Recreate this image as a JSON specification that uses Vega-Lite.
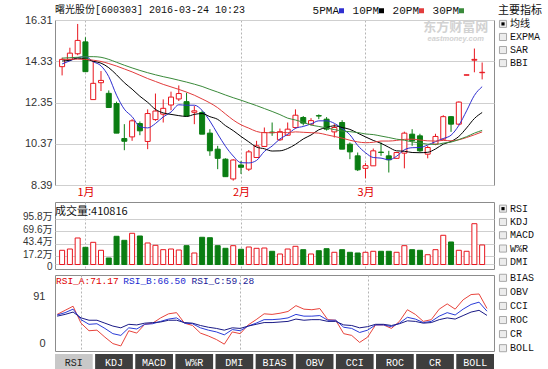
{
  "$schema": "https://vega.github.io/schema/vega-lite/v6.json",
  "padding": {"left": 0, "top": 4, "right": 0, "bottom": 0},
  "background": "white",
  "config": {
    "view": {"stroke": "#8c8c8c", "strokeWidth": 1},
    "font": "Liberation Sans"
  },
  "resolve": {"scale": {"color": "independent", "fill": "independent", "stroke": "independent"}, "legend": {"color": "independent"}},
  "datasets": {
    "candles": [
      {"i":0,"o":14.07,"h":14.5,"l":13.65,"c":14.42,"v":29.9,"d":"u"},
      {"i":1,"o":14.42,"h":14.98,"l":14.38,"c":14.72,"v":32.6,"d":"u"},
      {"i":2,"o":14.69,"h":16.12,"l":14.62,"c":15.33,"v":55.8,"d":"u"},
      {"i":3,"o":15.26,"h":15.48,"l":13.83,"c":13.83,"v":36.2,"d":"d"},
      {"i":4,"o":12.49,"h":14.34,"l":12.49,"c":13.27,"v":46.7,"d":"u"},
      {"i":5,"o":13.3,"h":13.86,"l":12.9,"c":13.41,"v":29.9,"d":"u"},
      {"i":6,"o":12.79,"h":12.93,"l":12.11,"c":12.11,"v":13.7,"d":"d"},
      {"i":7,"o":12.3,"h":12.39,"l":10.88,"c":10.88,"v":59.4,"d":"d"},
      {"i":8,"o":10.62,"h":11.31,"l":10.06,"c":10.49,"v":50.9,"d":"d"},
      {"i":9,"o":10.7,"h":11.55,"l":10.51,"c":11.47,"v":65.7,"d":"u"},
      {"i":10,"o":11.34,"h":11.44,"l":10.78,"c":10.99,"v":60.0,"d":"d"},
      {"i":11,"o":10.48,"h":12.02,"l":10.11,"c":11.82,"v":45.3,"d":"u"},
      {"i":12,"o":11.53,"h":12.78,"l":11.47,"c":11.94,"v":40.4,"d":"u"},
      {"i":13,"o":11.79,"h":12.5,"l":11.39,"c":12.07,"v":31.2,"d":"u"},
      {"i":14,"o":12.23,"h":12.87,"l":11.98,"c":12.61,"v":32.6,"d":"u"},
      {"i":15,"o":12.52,"h":13.17,"l":12.42,"c":12.78,"v":30.5,"d":"u"},
      {"i":16,"o":12.39,"h":12.82,"l":11.7,"c":11.7,"v":39.6,"d":"d"},
      {"i":17,"o":11.88,"h":12.18,"l":11.31,"c":11.95,"v":24.2,"d":"u"},
      {"i":18,"o":11.87,"h":11.96,"l":10.83,"c":10.83,"v":57.3,"d":"d"},
      {"i":19,"o":10.88,"h":11.07,"l":9.79,"c":10.03,"v":56.4,"d":"d"},
      {"i":20,"o":10.11,"h":10.27,"l":9.15,"c":9.67,"v":39.6,"d":"d"},
      {"i":21,"o":9.63,"h":9.67,"l":8.79,"c":8.79,"v":34.1,"d":"d"},
      {"i":22,"o":8.68,"h":9.63,"l":8.6,"c":9.59,"v":39.6,"d":"u"},
      {"i":23,"o":9.35,"h":9.55,"l":8.92,"c":9.24,"v":32.0,"d":"d"},
      {"i":24,"o":9.15,"h":10.07,"l":9.06,"c":9.98,"v":36.8,"d":"u"},
      {"i":25,"o":9.71,"h":10.51,"l":9.71,"c":10.27,"v":34.1,"d":"u"},
      {"i":26,"o":10.24,"h":11.15,"l":10.24,"c":10.91,"v":34.7,"d":"u"},
      {"i":27,"o":10.93,"h":11.39,"l":10.75,"c":10.9,"v":27.8,"d":"d"},
      {"i":28,"o":10.56,"h":11.1,"l":10.5,"c":10.95,"v":22.1,"d":"u"},
      {"i":29,"o":10.78,"h":11.39,"l":10.75,"c":11.07,"v":32.6,"d":"u"},
      {"i":30,"o":11.15,"h":12.02,"l":11.1,"c":11.74,"v":38.3,"d":"u"},
      {"i":31,"o":11.63,"h":11.7,"l":11.25,"c":11.36,"v":31.2,"d":"d"},
      {"i":32,"o":11.31,"h":11.6,"l":11.25,"c":11.48,"v":22.1,"d":"u"},
      {"i":33,"o":11.72,"h":11.78,"l":11.55,"c":11.7,"v":29.0,"d":"d"},
      {"i":34,"o":11.55,"h":11.65,"l":11.0,"c":11.07,"v":33.3,"d":"d"},
      {"i":35,"o":10.94,"h":11.31,"l":10.67,"c":11.15,"v":25.7,"d":"u"},
      {"i":36,"o":11.39,"h":11.5,"l":10.11,"c":10.11,"v":31.2,"d":"d"},
      {"i":37,"o":10.35,"h":10.43,"l":9.63,"c":9.98,"v":25.7,"d":"d"},
      {"i":38,"o":9.79,"h":9.95,"l":9.06,"c":9.12,"v":24.2,"d":"d"},
      {"i":39,"o":9.19,"h":9.44,"l":8.71,"c":9.32,"v":25.7,"d":"u"},
      {"i":40,"o":9.31,"h":10.14,"l":9.31,"c":10.03,"v":27.8,"d":"u"},
      {"i":41,"o":9.97,"h":10.43,"l":9.79,"c":9.95,"v":27.8,"d":"d"},
      {"i":42,"o":9.79,"h":10.03,"l":8.99,"c":9.6,"v":27.8,"d":"d"},
      {"i":43,"o":9.67,"h":9.97,"l":9.65,"c":9.95,"v":25.7,"d":"u"},
      {"i":44,"o":9.92,"h":10.95,"l":9.19,"c":10.88,"v":39.6,"d":"u"},
      {"i":45,"o":10.83,"h":11.07,"l":10.27,"c":10.51,"v":31.2,"d":"d"},
      {"i":46,"o":10.75,"h":10.85,"l":9.98,"c":10.03,"v":29.9,"d":"d"},
      {"i":47,"o":9.87,"h":10.27,"l":9.67,"c":10.19,"v":20.6,"d":"u"},
      {"i":48,"o":10.35,"h":10.85,"l":10.3,"c":10.72,"v":31.2,"d":"u"},
      {"i":49,"o":10.59,"h":11.74,"l":10.55,"c":11.67,"v":61.5,"d":"u"},
      {"i":50,"o":11.67,"h":11.7,"l":10.94,"c":11.31,"v":47.4,"d":"d"},
      {"i":51,"o":11.31,"h":12.4,"l":11.25,"c":12.37,"v":29.9,"d":"u"},
      {"i":52,"o":13.66,"h":13.68,"l":13.66,"c":13.68,"v":27.8,"d":"u"},
      {"i":53,"o":14.38,"h":14.94,"l":13.8,"c":14.42,"v":85.9,"d":"u"},
      {"i":54,"o":13.78,"h":14.27,"l":13.46,"c":13.8,"v":41.1,"d":"u"}
    ],
    "ma": [
      {"i":0,"5PMA":14.20,"10PM":14.34,"20PM":14.42,"30PM":14.48},
      {"i":1,"5PMA":14.35,"10PM":14.38,"20PM":14.42,"30PM":14.50},
      {"i":2,"5PMA":14.50,"10PM":14.48,"20PM":14.43,"30PM":14.52},
      {"i":3,"5PMA":14.55,"10PM":14.43,"20PM":14.42,"30PM":14.55},
      {"i":4,"5PMA":14.31,"10PM":14.33,"20PM":14.38,"30PM":14.55},
      {"i":5,"5PMA":14.11,"10PM":14.24,"20PM":14.32,"30PM":14.52},
      {"i":6,"5PMA":13.59,"10PM":14.02,"20PM":14.22,"30PM":14.42},
      {"i":7,"5PMA":12.70,"10PM":13.68,"20PM":14.10,"30PM":14.28},
      {"i":8,"5PMA":12.03,"10PM":13.30,"20PM":13.96,"30PM":14.14},
      {"i":9,"5PMA":11.67,"10PM":12.99,"20PM":13.82,"30PM":14.01},
      {"i":10,"5PMA":11.19,"10PM":12.65,"20PM":13.66,"30PM":13.89},
      {"i":11,"5PMA":11.13,"10PM":12.36,"20PM":13.50,"30PM":13.78},
      {"i":12,"5PMA":11.34,"10PM":12.02,"20PM":13.36,"30PM":13.68},
      {"i":13,"5PMA":11.66,"10PM":11.85,"20PM":13.22,"30PM":13.59},
      {"i":14,"5PMA":11.89,"10PM":11.78,"20PM":13.10,"30PM":13.51},
      {"i":15,"5PMA":12.24,"10PM":11.72,"20PM":12.98,"30PM":13.42},
      {"i":16,"5PMA":12.22,"10PM":11.68,"20PM":12.85,"30PM":13.33},
      {"i":17,"5PMA":12.22,"10PM":11.78,"20PM":12.70,"30PM":13.23},
      {"i":18,"5PMA":11.97,"10PM":11.82,"20PM":12.52,"30PM":13.12},
      {"i":19,"5PMA":11.46,"10PM":11.67,"20PM":12.33,"30PM":12.98},
      {"i":20,"5PMA":10.84,"10PM":11.54,"20PM":12.10,"30PM":12.85},
      {"i":21,"5PMA":10.25,"10PM":11.24,"20PM":11.80,"30PM":12.71},
      {"i":22,"5PMA":9.78,"10PM":11.00,"20PM":11.51,"30PM":12.58},
      {"i":23,"5PMA":9.46,"10PM":10.72,"20PM":11.28,"30PM":12.46},
      {"i":24,"5PMA":9.45,"10PM":10.46,"20PM":11.12,"30PM":12.33},
      {"i":25,"5PMA":9.57,"10PM":10.21,"20PM":10.96,"30PM":12.20},
      {"i":26,"5PMA":10.00,"10PM":10.13,"20PM":10.90,"30PM":12.06},
      {"i":27,"5PMA":10.26,"10PM":10.02,"20PM":10.90,"30PM":11.92},
      {"i":28,"5PMA":10.60,"10PM":10.03,"20PM":10.92,"30PM":11.77},
      {"i":29,"5PMA":10.82,"10PM":10.14,"20PM":10.90,"30PM":11.60},
      {"i":30,"5PMA":11.11,"10PM":10.34,"20PM":10.94,"30PM":11.51},
      {"i":31,"5PMA":11.20,"10PM":10.60,"20PM":10.92,"30PM":11.40},
      {"i":32,"5PMA":11.32,"10PM":10.79,"20PM":10.90,"30PM":11.27},
      {"i":33,"5PMA":11.47,"10PM":11.04,"20PM":10.88,"30PM":11.20},
      {"i":34,"5PMA":11.47,"10PM":11.15,"20PM":10.80,"30PM":11.13},
      {"i":35,"5PMA":11.35,"10PM":11.23,"20PM":10.72,"30PM":11.05},
      {"i":36,"5PMA":11.10,"10PM":11.15,"20PM":10.64,"30PM":10.98},
      {"i":37,"5PMA":10.80,"10PM":11.06,"20PM":10.54,"30PM":10.95},
      {"i":38,"5PMA":10.29,"10PM":10.88,"20PM":10.46,"30PM":10.91},
      {"i":39,"5PMA":9.94,"10PM":10.70,"20PM":10.42,"30PM":10.84},
      {"i":40,"5PMA":9.71,"10PM":10.53,"20PM":10.44,"30PM":10.81},
      {"i":41,"5PMA":9.68,"10PM":10.39,"20PM":10.50,"30PM":10.74},
      {"i":42,"5PMA":9.60,"10PM":10.20,"20PM":10.50,"30PM":10.67},
      {"i":43,"5PMA":9.77,"10PM":10.03,"20PM":10.53,"30PM":10.59},
      {"i":44,"5PMA":10.08,"10PM":10.01,"20PM":10.58,"30PM":10.54},
      {"i":45,"5PMA":10.18,"10PM":9.95,"20PM":10.59,"30PM":10.46},
      {"i":46,"5PMA":10.19,"10PM":9.94,"20PM":10.55,"30PM":10.41},
      {"i":47,"5PMA":10.31,"10PM":9.96,"20PM":10.51,"30PM":10.35},
      {"i":48,"5PMA":10.47,"10PM":10.12,"20PM":10.50,"30PM":10.34},
      {"i":49,"5PMA":10.62,"10PM":10.35,"20PM":10.53,"30PM":10.40},
      {"i":50,"5PMA":10.78,"10PM":10.48,"20PM":10.51,"30PM":10.45},
      {"i":51,"5PMA":11.25,"10PM":10.72,"20PM":10.56,"30PM":10.57},
      {"i":52,"5PMA":11.95,"10PM":11.13,"20PM":10.67,"30PM":10.71},
      {"i":53,"5PMA":12.69,"10PM":11.58,"20PM":10.80,"30PM":10.88},
      {"i":54,"5PMA":13.11,"10PM":11.87,"20PM":10.94,"30PM":11.01}
    ],
    "rsi": [
      {"i":0,"RSI_A":61,"RSI_B":60,"RSI_C":58},
      {"i":1,"RSI_A":68,"RSI_B":64,"RSI_C":61},
      {"i":2,"RSI_A":75,"RSI_B":70,"RSI_C":65},
      {"i":3,"RSI_A":46,"RSI_B":52,"RSI_C":55},
      {"i":4,"RSI_A":33,"RSI_B":44,"RSI_C":51},
      {"i":5,"RSI_A":34,"RSI_B":45,"RSI_C":51},
      {"i":6,"RSI_A":22,"RSI_B":37,"RSI_C":46},
      {"i":7,"RSI_A":11,"RSI_B":28,"RSI_C":41},
      {"i":8,"RSI_A":7,"RSI_B":25,"RSI_C":38},
      {"i":9,"RSI_A":33,"RSI_B":38,"RSI_C":44},
      {"i":10,"RSI_A":29,"RSI_B":36,"RSI_C":43},
      {"i":11,"RSI_A":44,"RSI_B":44,"RSI_C":46},
      {"i":12,"RSI_A":46,"RSI_B":45,"RSI_C":47},
      {"i":13,"RSI_A":55,"RSI_B":49,"RSI_C":48},
      {"i":14,"RSI_A":62,"RSI_B":53,"RSI_C":51},
      {"i":15,"RSI_A":64,"RSI_B":55,"RSI_C":51},
      {"i":16,"RSI_A":46,"RSI_B":46,"RSI_C":47},
      {"i":17,"RSI_A":42,"RSI_B":45,"RSI_C":46},
      {"i":18,"RSI_A":29,"RSI_B":38,"RSI_C":42},
      {"i":19,"RSI_A":24,"RSI_B":34,"RSI_C":39},
      {"i":20,"RSI_A":18,"RSI_B":31,"RSI_C":37},
      {"i":21,"RSI_A":10,"RSI_B":26,"RSI_C":34},
      {"i":22,"RSI_A":31,"RSI_B":35,"RSI_C":38},
      {"i":23,"RSI_A":28,"RSI_B":33,"RSI_C":37},
      {"i":24,"RSI_A":43,"RSI_B":41,"RSI_C":41},
      {"i":25,"RSI_A":52,"RSI_B":46,"RSI_C":44},
      {"i":26,"RSI_A":62,"RSI_B":52,"RSI_C":47},
      {"i":27,"RSI_A":61,"RSI_B":52,"RSI_C":47},
      {"i":28,"RSI_A":63,"RSI_B":53,"RSI_C":48},
      {"i":29,"RSI_A":66,"RSI_B":55,"RSI_C":49},
      {"i":30,"RSI_A":76,"RSI_B":61,"RSI_C":53},
      {"i":31,"RSI_A":70,"RSI_B":58,"RSI_C":51},
      {"i":32,"RSI_A":69,"RSI_B":58,"RSI_C":52},
      {"i":33,"RSI_A":71,"RSI_B":59,"RSI_C":52},
      {"i":34,"RSI_A":52,"RSI_B":51,"RSI_C":49},
      {"i":35,"RSI_A":51,"RSI_B":51,"RSI_C":49},
      {"i":36,"RSI_A":28,"RSI_B":39,"RSI_C":43},
      {"i":37,"RSI_A":25,"RSI_B":37,"RSI_C":42},
      {"i":38,"RSI_A":13,"RSI_B":30,"RSI_C":38},
      {"i":39,"RSI_A":22,"RSI_B":34,"RSI_C":40},
      {"i":40,"RSI_A":43,"RSI_B":43,"RSI_C":44},
      {"i":41,"RSI_A":43,"RSI_B":43,"RSI_C":44},
      {"i":42,"RSI_A":37,"RSI_B":40,"RSI_C":42},
      {"i":43,"RSI_A":49,"RSI_B":46,"RSI_C":45},
      {"i":44,"RSI_A":69,"RSI_B":56,"RSI_C":50},
      {"i":45,"RSI_A":61,"RSI_B":53,"RSI_C":49},
      {"i":46,"RSI_A":49,"RSI_B":47,"RSI_C":46},
      {"i":47,"RSI_A":52,"RSI_B":49,"RSI_C":47},
      {"i":48,"RSI_A":70,"RSI_B":58,"RSI_C":52},
      {"i":49,"RSI_A":79,"RSI_B":64,"RSI_C":55},
      {"i":50,"RSI_A":70,"RSI_B":60,"RSI_C":53},
      {"i":51,"RSI_A":86,"RSI_B":70,"RSI_C":59},
      {"i":52,"RSI_A":95,"RSI_B":78,"RSI_C":65},
      {"i":53,"RSI_A":96,"RSI_B":82,"RSI_C":68},
      {"i":54,"RSI_A":71.17,"RSI_B":66.5,"RSI_C":59.28}
    ],
    "sideA": [{"n":"均线","on":true},{"n":"EXPMA","on":false},{"n":"SAR","on":false},{"n":"BBI","on":false}],
    "sideB": [{"n":"RSI","on":true},{"n":"KDJ","on":false},{"n":"MACD","on":false},{"n":"W%R","on":false},{"n":"DMI","on":false}],
    "sideC": [{"n":"BIAS","on":false},{"n":"OBV","on":false},{"n":"CCI","on":false},{"n":"ROC","on":false},{"n":"CR","on":false},{"n":"BOLL","on":false}],
    "tabs": [{"t":"RSI","r":"tab"},{"t":"KDJ","r":"tab"},{"t":"MACD","r":"tab"},{"t":"W%R","r":"tab"},{"t":"DMI","r":"tab"},{"t":"BIAS","r":"tab"},{"t":"OBV","r":"tab"},{"t":"CCI","r":"tab"},{"t":"ROC","r":"tab"},{"t":"CR","r":"tab"},{"t":"BOLL","r":"tab"}]
  },
  "spacing": 0,
  "vconcat": [
    {
      "spacing": 2,
      "hconcat": [
        {
          "width": 439,
          "height": 165,
          "title": {"text": "曙光股份[600303] 2016-03-24 10:23", "anchor": "start", "frame": "group", "font": "Liberation Mono, Noto Sans CJK SC", "fontSize": 10, "fontWeight": "normal", "color": "#111111", "offset": -1},
          "layer": [
            {
              "data": {"name": "candles"},
              "mark": {"type": "rule", "strokeWidth": 1},
              "encoding": {
                "x": {"field": "i", "type": "quantitative", "scale": {"domain": [-0.27, 54.88], "nice": false, "zero": false},
                  "axis": {"values": [3, 23, 39], "labelExpr": "datum.value == 3 ? '1月' : datum.value == 23 ? '2月' : '3月'", "grid": true, "gridDash": [2, 2], "gridColor": "#b4b4b4", "domain": false, "ticks": false, "labelColor": "#e00000", "labelFont": "Noto Sans CJK SC", "labelFontSize": 11, "labelPadding": 1, "labelFlush": false, "title": null, "minExtent": 15, "maxExtent": 15}},
                "y": {"field": "l", "type": "quantitative", "scale": {"domain": [8.39, 16.31], "nice": false, "zero": false},
                  "axis": {"values": [8.39, 9.38, 10.37, 11.36, 12.35, 13.34, 14.33, 15.32, 16.31], "format": ".2f", "grid": true, "gridColor": "#cfcfcf", "domain": false, "ticks": false, "labelColor": "#333333", "labelFont": "Liberation Sans", "labelFontSize": 11, "labelPadding": 3, "labelOverlap": false, "title": null, "minExtent": 54, "maxExtent": 54}},
                "y2": {"field": "h"},
                "stroke": {"field": "d", "type": "nominal", "scale": {"domain": ["u", "d"], "range": ["#e8161e", "#0a7d12"]}, "legend": null}
              }
            },
            {
              "data": {"name": "candles"},
              "mark": {"type": "bar", "width": 5, "strokeWidth": 1},
              "encoding": {
                "x": {"field": "i", "type": "quantitative"},
                "y": {"field": "o", "type": "quantitative"},
                "y2": {"field": "c"},
                "fill": {"field": "d", "type": "nominal", "scale": {"domain": ["u", "d"], "range": ["#ffffff", "#0a7d12"]}, "legend": null},
                "stroke": {"field": "d", "type": "nominal", "legend": null}
              }
            },
            {
              "data": {"name": "ma"},
              "transform": [{"fold": ["5PMA", "10PM", "20PM", "30PM"], "as": ["ma", "val"]}],
              "mark": {"type": "line", "strokeWidth": 1, "interpolate": "monotone"},
              "encoding": {
                "x": {"field": "i", "type": "quantitative"},
                "y": {"field": "val", "type": "quantitative"},
                "color": {"field": "ma", "type": "nominal", "sort": null, "scale": {"domain": ["5PMA", "10PM", "20PM", "30PM"], "range": ["#2f2fd0", "#000000", "#e23c3c", "#3a8a3a"]},
                  "legend": {"orient": "none", "legendX": 281, "legendY": -15, "direction": "horizontal", "title": null, "symbolType": "stroke", "symbolStrokeWidth": 5, "symbolSize": 25, "labelFont": "Liberation Mono", "labelFontSize": 11, "labelColor": "#111111", "labelAlign": "right", "labelOffset": -8, "columnPadding": -2, "padding": 0}}
              }
            },
            {
              "data": {"values": [{"t": "东方财富网"}]},
              "mark": {"type": "text", "font": "Noto Sans CJK SC", "fontSize": 13, "fontWeight": "bold", "color": "#d2d2d2", "align": "center", "baseline": "middle"},
              "encoding": {"x": {"datum": 50.6, "type": "quantitative"}, "y": {"datum": 15.99, "type": "quantitative"}, "text": {"field": "t", "type": "nominal"}}
            },
            {
              "data": {"values": [{"t": "eastmoney.com"}]},
              "mark": {"type": "text", "font": "Liberation Sans", "fontSize": 7.5, "fontStyle": "italic", "fontWeight": "bold", "color": "#d2d2d2", "align": "center", "baseline": "middle"},
              "encoding": {"x": {"datum": 50.6, "type": "quantitative"}, "y": {"datum": 15.41, "type": "quantitative"}, "text": {"field": "t", "type": "nominal"}}
            }
          ]
        },
        {
          "width": 10,
          "height": 47,
          "view": {"stroke": null},
          "title": {"text": "主要指标", "anchor": "start", "frame": "group", "font": "Noto Sans CJK SC", "fontSize": 11, "fontWeight": "normal", "color": "#111111", "offset": 2},
          "data": {"name": "sideA"},
          "encoding": {"y": {"field": "n", "type": "ordinal", "sort": null, "scale": {"type": "point", "padding": 0.3}, "axis": null}},
          "layer": [
            {"mark": {"type": "square", "size": 50, "filled": true, "color": "#ececec", "stroke": "#a8a8a8", "strokeWidth": 1, "opacity": 1}},
            {"transform": [{"filter": "datum.on"}], "mark": {"type": "square", "size": 10, "filled": true, "color": "#000000", "opacity": 1}},
            {"mark": {"type": "text", "align": "left", "dx": 7, "font": "Liberation Mono, Noto Sans CJK SC", "fontSize": 10, "color": "#111111"}, "encoding": {"text": {"field": "n"}}}
          ]
        }
      ]
    },
    {
      "spacing": 2,
      "hconcat": [
        {
          "width": 439,
          "height": 67,
          "title": {"text": "成交量:410816", "anchor": "start", "frame": "group", "font": "Noto Sans CJK SC", "fontSize": 11, "fontWeight": "normal", "color": "#111111", "offset": -15},
          "layer": [
            {
              "data": {"name": "candles"},
              "mark": {"type": "bar", "width": 5, "strokeWidth": 1},
              "encoding": {
                "x": {"field": "i", "type": "quantitative", "scale": {"domain": [-0.27, 54.88], "nice": false, "zero": false},
                  "axis": {"values": [3, 23, 39], "grid": true, "gridDash": [2, 2], "gridColor": "#b4b4b4", "labels": false, "ticks": false, "domain": false, "title": null, "minExtent": 2, "maxExtent": 2}},
                "y": {"field": "v", "type": "quantitative", "scale": {"domain": [-9.5, 131.6], "nice": false, "zero": false},
                  "axis": {"values": [0, 17.2, 43.4, 69.6, 95.8], "format": ".1f", "labelExpr": "datum.value == 0 ? '0' : datum.label + '万'", "grid": true, "gridColor": "#cfcfcf", "domain": false, "ticks": false, "labelColor": "#333333", "labelFont": "Liberation Sans, Noto Sans CJK SC", "labelFontSize": 10, "labelPadding": 3, "labelOverlap": false, "title": null, "minExtent": 54, "maxExtent": 54,
                    "labelOffset": {"condition": {"test": "datum.value == 0", "value": 2}, "value": -2}}},
                "y2": {"datum": 0},
                "fill": {"field": "d", "type": "nominal", "scale": {"domain": ["u", "d"], "range": ["#ffffff", "#0a7d12"]}, "legend": null},
                "stroke": {"field": "d", "type": "nominal", "scale": {"domain": ["u", "d"], "range": ["#e8161e", "#0a7d12"]}, "legend": null}
              }
            }
          ]
        },
        {
          "width": 10,
          "height": 66.5,
          "view": {"stroke": null},
          "data": {"name": "sideB"},
          "encoding": {"y": {"field": "n", "type": "ordinal", "sort": null, "scale": {"type": "point", "padding": 0.5}, "axis": null}},
          "layer": [
            {"mark": {"type": "square", "size": 50, "filled": true, "color": "#ececec", "stroke": "#a8a8a8", "strokeWidth": 1, "opacity": 1}},
            {"transform": [{"filter": "datum.on"}], "mark": {"type": "square", "size": 10, "filled": true, "color": "#000000", "opacity": 1}},
            {"mark": {"type": "text", "align": "left", "dx": 7, "font": "Liberation Mono, Noto Sans CJK SC", "fontSize": 10, "color": "#111111"}, "encoding": {"text": {"field": "n"}}}
          ]
        }
      ]
    },
    {
      "spacing": 2,
      "hconcat": [
        {
          "width": 439,
          "height": 76,
          "layer": [
            {
              "data": {"name": "rsi"},
              "transform": [{"fold": ["RSI_A", "RSI_B", "RSI_C"], "as": ["k", "val"]}],
              "mark": {"type": "line", "strokeWidth": 1},
              "encoding": {
                "x": {"field": "i", "type": "quantitative", "scale": {"domain": [-0.27, 54.88], "nice": false, "zero": false},
                  "axis": {"values": [3, 23, 39], "grid": true, "gridDash": [2, 2], "gridColor": "#b4b4b4", "labels": false, "ticks": false, "domain": false, "title": null, "minExtent": 0, "maxExtent": 0}},
                "y": {"field": "val", "type": "quantitative", "scale": {"domain": [-1.7, 128.5], "nice": false, "zero": false},
                  "axis": {"values": [0, 51, 91], "format": "d", "grid": true, "gridColor": "#c4c4c4", "gridOpacity": {"condition": {"test": "datum.value == 51", "value": 1}, "value": 0}, "domain": false, "ticks": false, "labelColor": "#333333", "labelFont": "Liberation Sans", "labelFontSize": 11, "labelPadding": 10, "labelOverlap": false, "title": null, "minExtent": 54, "maxExtent": 54,
                    "labelOffset": {"condition": {"test": "datum.value == 0", "value": -7}, "value": 0}}},
                "color": {"field": "k", "type": "nominal", "scale": {"domain": ["RSI_A", "RSI_B", "RSI_C"], "range": ["#e8443c", "#2a3cd8", "#1a1a86"]}, "legend": null}
              }
            },
            {
              "mark": {"type": "rule", "color": "#a0a0a0", "strokeWidth": 1},
              "encoding": {"y": {"datum": 107, "type": "quantitative"}}
            },
            {
              "data": {"values": [{"t": "RSI_A:71.17"}]},
              "mark": {"type": "text", "align": "left", "baseline": "middle", "dx": 1, "font": "Liberation Mono", "fontSize": 9.5, "color": "#e00000"},
              "encoding": {"x": {"datum": -0.27, "type": "quantitative"}, "y": {"datum": 117.8, "type": "quantitative"}, "text": {"field": "t", "type": "nominal"}}
            },
            {
              "data": {"values": [{"t": "RSI_B:66.50"}]},
              "mark": {"type": "text", "align": "left", "baseline": "middle", "font": "Liberation Mono", "fontSize": 9.5, "color": "#1a2ad0"},
              "encoding": {"x": {"datum": 8.31, "type": "quantitative"}, "y": {"datum": 117.8, "type": "quantitative"}, "text": {"field": "t", "type": "nominal"}}
            },
            {
              "data": {"values": [{"t": "RSI_C:59.28"}]},
              "mark": {"type": "text", "align": "left", "baseline": "middle", "font": "Liberation Mono", "fontSize": 9.5, "color": "#1a1a96"},
              "encoding": {"x": {"datum": 16.88, "type": "quantitative"}, "y": {"datum": 117.8, "type": "quantitative"}, "text": {"field": "t", "type": "nominal"}}
            }
          ]
        },
        {
          "width": 10,
          "height": 76,
          "view": {"stroke": null},
          "data": {"name": "sideC"},
          "encoding": {"y": {"field": "n", "type": "ordinal", "sort": null, "scale": {"type": "point", "padding": 0.2}, "axis": null}},
          "layer": [
            {"mark": {"type": "square", "size": 50, "filled": true, "color": "#ececec", "stroke": "#a8a8a8", "strokeWidth": 1, "opacity": 1}},
            {"mark": {"type": "text", "align": "left", "dx": 7, "font": "Liberation Mono", "fontSize": 10, "color": "#111111"}, "encoding": {"text": {"field": "n"}}}
          ]
        }
      ]
    },
    {
      "width": 439,
      "height": 18,
      "view": {"stroke": null},
      "data": {"name": "tabs"},
      "encoding": {
        "x": {"field": "t", "type": "nominal", "sort": null, "scale": {"paddingInner": 0.06, "paddingOuter": 0}, "axis": null},
        "y": {"field": "r", "type": "nominal", "scale": {"paddingInner": 0, "paddingOuter": 0}, "axis": {"labels": false, "ticks": false, "domain": false, "title": null, "minExtent": 54, "maxExtent": 54}}
      },
      "layer": [
        {"mark": {"type": "bar"}, "encoding": {"color": {"condition": {"test": "datum.t == 'RSI'", "value": "#c8c8c8"}, "value": "#3e3e3e"}}},
        {"mark": {"type": "text", "font": "Liberation Mono", "fontSize": 10, "baseline": "middle"}, "encoding": {"text": {"field": "t"}, "color": {"condition": {"test": "datum.t == 'RSI'", "value": "#222222"}, "value": "#ffffff"}}}
      ]
    }
  ]
}
